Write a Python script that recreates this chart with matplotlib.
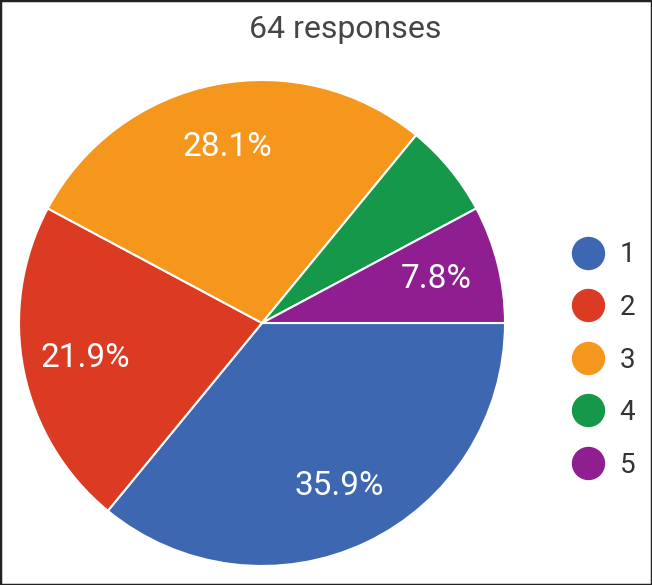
import matplotlib
matplotlib.use("Agg")
import matplotlib.pyplot as plt
from matplotlib.lines import Line2D
from matplotlib.patches import Rectangle

categories = ["1", "2", "3", "4", "5"]
counts = [23, 14, 18, 4, 5]
colors = ["#3d67b1", "#db3b23", "#f6971d", "#15984a", "#8f1f90"]
title = "64 responses"

plt.rcParams['font.family'] = ['Roboto', 'DejaVu Sans']

W, H = 652, 585
fig = plt.figure(figsize=(W / 100, H / 100), dpi=100)
fig.patch.set_facecolor("white")

cx, cy, r = 262, 262, 243
ax = fig.add_axes([(cx - r) / W, (cy - r) / H, 2 * r / W, 2 * r / H])

def fmt(p):
    return f"{p:.1f}%" if p >= 7 else ""

wedges, texts, autotexts = ax.pie(
    counts, colors=colors, startangle=0, counterclock=False,
    autopct=fmt, pctdistance=0.74, radius=1.0,
    wedgeprops=dict(edgecolor="white", linewidth=1.5),
    textprops=dict(color="white", fontsize=24))
ax.set_xlim(-1, 1)
ax.set_ylim(-1, 1)
ax.set_aspect("equal")
ax.axis("off")

fig.text(345 / W, 1 - 29 / H, title, ha="center", va="center",
         fontsize=23, color="#454545")

handles = [Line2D([], [], marker="o", linestyle="none", markersize=23,
                  markerfacecolor=c, markeredgecolor=c) for c in colors]
fig.legend(handles, categories, loc="center left",
           bbox_to_anchor=(571 / W, 1 - 360 / H), frameon=False,
           fontsize=20, labelspacing=0.92, handlelength=1.2,
           handletextpad=0.55, borderpad=0, borderaxespad=0,
           labelcolor="#333333")

fig.add_artist(Rectangle((0, 0), 1, 1, transform=fig.transFigure,
                         fill=False, edgecolor="#222222", linewidth=2.5))

fig.savefig("out.png", dpi=100)
